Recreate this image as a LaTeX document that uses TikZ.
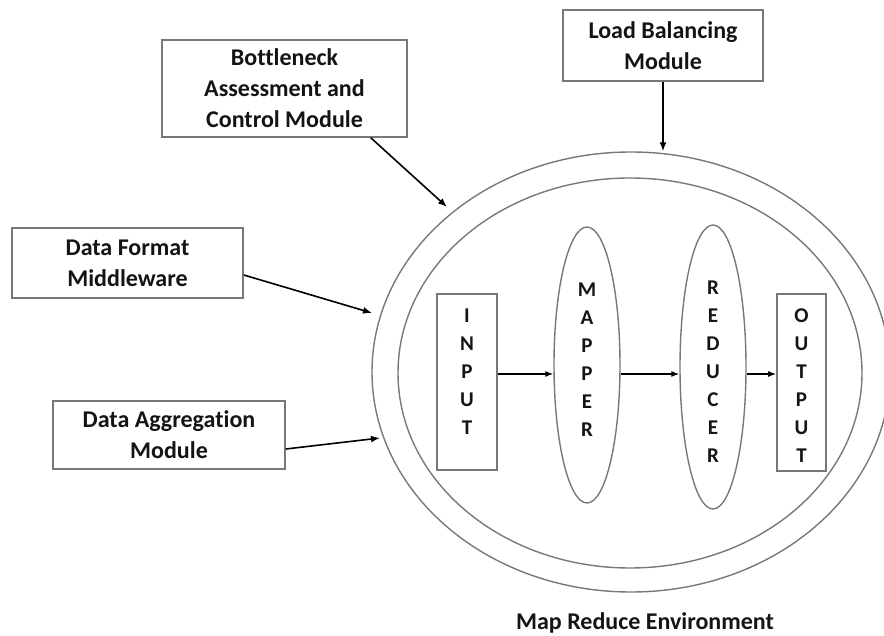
\documentclass[tikz,border=0pt]{standalone}
\usepackage{fontspec}
\setmainfont[Ligatures=NoCommon]{Carlito}
\usepackage{tikz}
\usetikzlibrary{shapes.geometric, arrows.meta, positioning, calc}
\definecolor{edgegray}{RGB}{120, 120, 120}
\definecolor{inkblack}{RGB}{20, 20, 20}

\tikzset{
  modbox/.style={draw=edgegray, line width=1.6pt, fill=white, inner sep=0pt, align=center,
    font=\fontsize{24}{31}\selectfont\bfseries, text=inkblack},
  ring/.style={ellipse, draw=edgegray, line width=1.4pt, inner sep=0pt},
  stagebox/.style={draw=edgegray, line width=1.6pt, inner sep=0pt},
  stageoval/.style={ellipse, draw=edgegray, line width=1.4pt, inner sep=0pt},
  letters/.style={align=center, inner sep=0pt, font=\fontsize{21}{28}\selectfont\bfseries, text=inkblack},
  feed/.style={-{Latex[length=9pt, width=7pt]}, line width=1.6pt, black},
  flow/.style={-{Latex[length=8pt, width=6pt]}, line width=1.2pt, black}
}

\begin{document}
\begin{tikzpicture}[x=1pt, y=-1pt]
  \useasboundingbox (0,0) rectangle (884,636);

  % Environment rings
  \node[ring, minimum width=518pt, minimum height=440pt] (outer) at (631, 372) {};
  \node[ring, minimum width=464pt, minimum height=390pt] (inner) at (630, 373) {};
  \node[font=\fontsize{24}{28}\selectfont\bfseries, text=inkblack] (env) at (645, 623) {Map Reduce Environment};

  % Stages inside
  \node[stagebox, minimum width=60pt, minimum height=176pt] (input) at (467, 382) {};
  \node[letters] (inputtxt) at (467, 372) {I\\N\\P\\U\\T};
  \node[stageoval, minimum width=66pt, minimum height=276pt] (mapper) at (587, 365) {};
  \node[letters] (mappertxt) at (587, 360) {M\\A\\P\\P\\E\\R};
  \node[stageoval, minimum width=66pt, minimum height=284pt] (reducer) at (713, 367) {};
  \node[letters] (reducertxt) at (713, 372) {R\\E\\D\\U\\C\\E\\R};
  \node[stagebox, minimum width=49pt, minimum height=177pt] (output) at (801.5, 382.5) {};
  \node[letters] (outputtxt) at (801.5, 386) {O\\U\\T\\P\\U\\T};

  \coordinate (lane) at (0, 374);
  \draw[flow] (input.east |- lane) -- (mapper.west |- lane);
  \draw[flow] (mapper.east |- lane) -- (reducer.west |- lane);
  \draw[flow] (reducer.east |- lane) -- (output.west |- lane);

  % Modules around
  \node[modbox, minimum width=245pt, minimum height=97pt] (bn) at (284.5, 88.5) {Bottleneck\\Assessment and\\Control Module};
  \node[modbox, minimum width=200pt, minimum height=71pt] (lb) at (663, 45.5) {Load Balancing\\Module};
  \node[modbox, minimum width=231pt, minimum height=70pt] (fmt) at (127.5, 263) {Data Format\\Middleware};
  \node[modbox, minimum width=232pt, minimum height=68pt] (agg) at (169, 435) {Data Aggregation\\Module};

  \coordinate (bntip) at (447, 207);
  \coordinate (fmttip) at (372, 313);
  \coordinate (aggtip) at (380, 438);

  \draw[feed] ([xshift=-37pt]bn.south east) -- (bntip);
  \draw[feed] (lb.south) -- (lb.south |- outer.north);
  \draw[feed] ([yshift=-12pt]fmt.east) -- (fmttip);
  \draw[feed] ([yshift=-14pt]agg.east) -- (aggtip);
\end{tikzpicture}
\end{document}
